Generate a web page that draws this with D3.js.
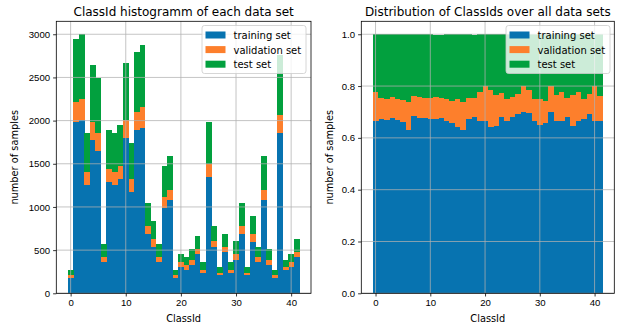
<!DOCTYPE html>
<html>
<head>
<meta charset="utf-8">
<script src="https://cdn.jsdelivr.net/npm/d3@7"></script>
<style>
  body { margin: 0; background: #fff; }
  svg { font-family: "DejaVu Sans", sans-serif; }
  .grid line { stroke: #b0b0b0; stroke-width: 0.75; }
  .axis path, .axis line { stroke: #000; stroke-width: 0.8; }
  .axis text { font-size: 9.6px; fill: #000; }
  .title { font-size: 12px; text-anchor: middle; }
  .axis-label { font-size: 9.8px; text-anchor: middle; }
  .legend text { font-size: 10px; }
</style>
</head>
<body>
<div id="chart-container"><svg></svg></div>
<script>
// ClassIds 0..41 (last bin holds classes 41 and 42)
const classIds = d3.range(42);
const seriesNames = ["training set", "validation set", "test set"];
const seriesColors = ["#0773b0", "#fd7f2c", "#02a03e"];

const trainCounts = [180,1980,2010,1260,1770,1650,360,1290,1260,1320,1800,1170,1890,1920,690,540,360,990,1080,180,300,270,330,450,240,1350,540,210,480,240,390,690,210,599,360,1080,330,180,1860,270,300,420];
const validCounts = [30,240,240,150,210,210,60,150,150,150,210,150,210,240,90,90,60,120,120,30,60,60,60,60,30,150,60,30,60,30,60,90,30,90,60,120,60,30,210,30,60,60];
const testCounts = [60,720,750,450,660,630,150,450,450,480,660,420,690,720,270,210,150,360,390,60,90,90,120,150,90,480,180,60,150,90,150,270,60,210,120,390,120,60,690,90,90,150];

const trainShare = [0.667,0.673,0.670,0.677,0.670,0.663,0.632,0.683,0.677,0.677,0.674,0.672,0.677,0.667,0.657,0.643,0.632,0.673,0.679,0.667,0.667,0.643,0.647,0.682,0.667,0.682,0.692,0.700,0.696,0.667,0.650,0.657,0.700,0.666,0.667,0.679,0.647,0.667,0.674,0.692,0.667,0.667];
const validShare = [0.111,0.082,0.080,0.081,0.080,0.084,0.105,0.079,0.081,0.077,0.079,0.086,0.075,0.083,0.086,0.107,0.105,0.082,0.075,0.111,0.133,0.143,0.118,0.091,0.083,0.076,0.077,0.100,0.087,0.083,0.100,0.086,0.100,0.100,0.111,0.075,0.118,0.111,0.076,0.077,0.133,0.095];
const testShare = [0.222,0.245,0.250,0.242,0.250,0.253,0.263,0.238,0.242,0.246,0.247,0.241,0.247,0.250,0.257,0.250,0.263,0.245,0.245,0.222,0.200,0.214,0.235,0.227,0.250,0.242,0.231,0.200,0.217,0.250,0.250,0.257,0.200,0.234,0.222,0.245,0.235,0.222,0.250,0.231,0.200,0.238];

const xTicks = [0, 10, 20, 30, 40];
const countTicks = [0, 500, 1000, 1500, 2000, 2500, 3000];
const shareTicks = [0, 0.2, 0.4, 0.6, 0.8, 1.0];

const chartSize = {width: 619, height: 330};

const svg = d3.select("#chart-container svg")
  .attr("width", chartSize.width)
  .attr("height", chartSize.height);

const drawPanel = (opts) => {
  const {left, right, top, bottom, values, yMax, yTicks, yFormat, title, legendX, labelOffset} = opts;

  const x = d3.scaleLinear().domain([-2.6, 43.6]).range([left, right]);
  const y = d3.scaleLinear().domain([0, yMax]).range([bottom, top]);

  const rows = classIds.map((c, i) => ({
    c, a: values[0][i], b: values[1][i], t: values[2][i]
  }));
  const stack = d3.stack().keys(["a", "b", "t"]);
  const layers = stack(rows);

  const g = svg.append("g");

  g.selectAll("g.layer")
    .data(layers)
    .join("g")
    .attr("class", "layer")
    .attr("fill", (d, i) => seriesColors[i])
    .selectAll("rect")
    .data(d => d)
    .join("rect")
    .attr("shape-rendering", "crispEdges")
    .attr("x", d => x(d.data.c - 0.5))
    .attr("width", d => x(d.data.c + 0.5) - x(d.data.c - 0.5) + 0.3)
    .attr("y", d => y(d[1]))
    .attr("height", d => y(d[0]) - y(d[1]));

  // grid above bars, as in the original
  const grid = g.append("g").attr("class", "grid");
  grid.selectAll("line.gx")
    .data(xTicks)
    .join("line")
    .attr("class", "gx")
    .attr("x1", d => x(d)).attr("x2", d => x(d))
    .attr("y1", top).attr("y2", bottom);
  grid.selectAll("line.gy")
    .data(yTicks)
    .join("line")
    .attr("class", "gy")
    .attr("x1", left).attr("x2", right)
    .attr("y1", d => y(d)).attr("y2", d => y(d));

  g.append("g")
    .attr("class", "axis")
    .attr("transform", `translate(0,${bottom})`)
    .call(d3.axisBottom(x).tickValues(xTicks).tickSize(3.2).tickPadding(3).tickFormat(d3.format("d")))
    .call(a => a.select(".domain").remove());

  g.append("g")
    .attr("class", "axis")
    .attr("transform", `translate(${left},0)`)
    .call(d3.axisLeft(y).tickValues(yTicks).tickSize(3.2).tickPadding(3).tickFormat(yFormat))
    .call(a => a.select(".domain").remove());

  g.append("rect")
    .attr("x", left).attr("y", top)
    .attr("width", right - left).attr("height", bottom - top)
    .attr("fill", "none")
    .attr("stroke", "#000")
    .attr("stroke-width", 0.8);

  g.append("text")
    .attr("class", "title")
    .attr("x", (left + right) / 2)
    .attr("y", 15.5)
    .text(title);

  g.append("text")
    .attr("class", "axis-label")
    .attr("x", (left + right) / 2)
    .attr("y", 322)
    .text("ClassId");

  g.append("text")
    .attr("class", "axis-label")
    .attr("transform", `translate(${left - labelOffset},${(top + bottom) / 2}) rotate(-90)`)
    .text("number of samples");

  const legend = g.append("g").attr("class", "legend");
  legend.append("rect")
    .attr("x", legendX).attr("y", 25.5)
    .attr("width", 104).attr("height", 48)
    .attr("rx", 2.5)
    .attr("fill", "#fff").attr("fill-opacity", 0.8)
    .attr("stroke", "#cccccc").attr("stroke-width", 0.8);
  const items = legend.selectAll("g.item")
    .data(seriesNames)
    .join("g")
    .attr("class", "item")
    .attr("transform", (d, i) => `translate(${legendX + 3.5},${31.5 + i * 14.6})`);
  items.append("rect")
    .attr("width", 20).attr("height", 7)
    .attr("fill", (d, i) => seriesColors[i]);
  items.append("text")
    .attr("x", 28).attr("y", 7.5)
    .text(d => d);
};

drawPanel({
  left: 56.3, right: 311, top: 21.3, bottom: 293.3,
  values: [trainCounts, validCounts, testCounts],
  yMax: 3150, yTicks: countTicks, yFormat: d3.format("d"),
  title: "ClassId histogramm of each data set",
  legendX: 202, labelOffset: 38
});

drawPanel({
  left: 361.3, right: 614.3, top: 21.3, bottom: 293.3,
  values: [trainShare, validShare, testShare],
  yMax: 1.05, yTicks: shareTicks, yFormat: d3.format(".1f"),
  title: "Distribution of ClassIds over all data sets",
  legendX: 506, labelOffset: 28
});
</script>
</body>
</html>
